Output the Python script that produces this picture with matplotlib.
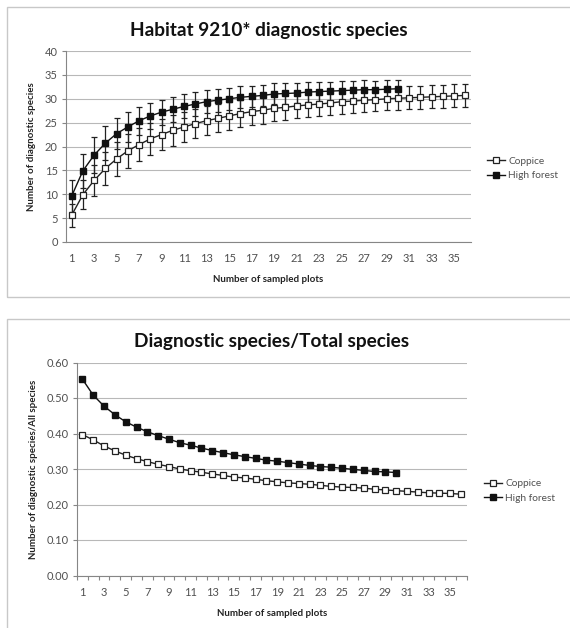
import numpy as np
import matplotlib.pyplot as plt
from matplotlib.patches import Rectangle

plt.rcParams['font.family'] = ['Lato', 'DejaVu Sans']

# Species accumulation: number of diagnostic species (mean and SD)
coppice_n = [5.6, 9.9, 12.9, 15.4, 17.4, 19.1, 20.4, 21.6, 22.5, 23.4, 24.1, 24.8,
             25.4, 25.9, 26.4, 26.9, 27.3, 27.6, 28.0, 28.2, 28.5, 28.7, 28.9, 29.1,
             29.4, 29.5, 29.7, 29.8, 30.0, 30.1, 30.2, 30.3, 30.4, 30.5, 30.6, 30.7]
coppice_sd = [2.4, 3.0, 3.2, 3.4, 3.5, 3.5, 3.4, 3.3, 3.2, 3.2, 3.1, 3.0,
              3.0, 2.9, 2.9, 2.9, 2.8, 2.8, 2.7, 2.7, 2.6, 2.6, 2.5, 2.5,
              2.5, 2.5, 2.4, 2.4, 2.4, 2.4, 2.4, 2.4, 2.4, 2.4, 2.4, 2.4]
forest_n = [9.6, 14.9, 18.2, 20.7, 22.7, 24.1, 25.4, 26.4, 27.2, 27.8, 28.4, 28.9,
            29.4, 29.7, 30.0, 30.3, 30.5, 30.7, 31.0, 31.1, 31.2, 31.4, 31.5, 31.6,
            31.7, 31.8, 31.9, 31.9, 32.0, 32.1]
forest_sd = [3.3, 3.6, 3.7, 3.5, 3.2, 3.1, 2.9, 2.8, 2.6, 2.6, 2.5, 2.5,
             2.4, 2.4, 2.3, 2.3, 2.2, 2.2, 2.2, 2.1, 2.1, 2.1, 2.0, 2.0,
             2.0, 2.0, 2.0, 1.9, 1.9, 1.9]

# Ratio diagnostic / all species
coppice_ratio = [0.397, 0.382, 0.365, 0.351, 0.339, 0.329, 0.321, 0.313, 0.307, 0.300,
                 0.295, 0.291, 0.286, 0.282, 0.277, 0.275, 0.271, 0.267, 0.264, 0.261,
                 0.259, 0.257, 0.254, 0.251, 0.249, 0.248, 0.246, 0.243, 0.241, 0.239,
                 0.237, 0.235, 0.233, 0.232, 0.231, 0.229]
forest_ratio = [0.553, 0.508, 0.477, 0.453, 0.433, 0.418, 0.405, 0.394, 0.384, 0.374,
                0.367, 0.359, 0.352, 0.346, 0.340, 0.335, 0.330, 0.325, 0.322, 0.318,
                0.314, 0.310, 0.307, 0.305, 0.302, 0.299, 0.296, 0.293, 0.292, 0.290]

W, H = 570, 628
fig = plt.figure(figsize=(W / 100, H / 100), dpi=100)

def px_axes(left, top, right, bottom):
    return fig.add_axes([left / W, 1 - bottom / H, (right - left) / W, (bottom - top) / H])

# panel frames
for y0, y1 in [(7, 297), (319, 640)]:
    fig.patches.append(Rectangle((7 / W, 1 - y1 / H), (575 - 7) / W, (y1 - y0) / H,
                                 transform=fig.transFigure, fill=False,
                                 edgecolor='#c8c8c8', linewidth=1.0))

grey = '#868686'
text_col = '#505050'
ms = 4.6

def style(ax, ylim, yticks, fmt):
    ax.set_xlim(0.5, 36.5)
    ax.set_ylim(*ylim)
    ax.set_yticks(yticks)
    ax.set_yticklabels([fmt.format(v) for v in yticks])
    ax.set_xticks(np.arange(1, 37, 2))
    ax.set_xticklabels([str(i) for i in range(1, 37, 2)])
    for s in ['top', 'right']:
        ax.spines[s].set_visible(False)
    for s in ['left', 'bottom']:
        ax.spines[s].set_color(grey)
        ax.spines[s].set_linewidth(0.8)
    ax.grid(axis='y', color='#b8b8b8', linewidth=0.8)
    ax.set_axisbelow(True)
    ax.tick_params(axis='both', labelsize=8, colors=grey, labelcolor=text_col)
    ax.tick_params(axis='y', length=3, width=0.8, pad=3)

# ---- top chart ----
ax1 = px_axes(66, 51, 471, 242)
x_c = np.arange(1, len(coppice_n) + 1)
x_f = np.arange(1, len(forest_n) + 1)
ax1.errorbar(x_f, forest_n, yerr=forest_sd, fmt='none', ecolor='#222222',
             elinewidth=0.9, capsize=2.5, capthick=0.9, zorder=2)
ax1.errorbar(x_c, coppice_n, yerr=coppice_sd, fmt='none', ecolor='#222222',
             elinewidth=0.9, capsize=2.5, capthick=0.9, zorder=2)
ax1.plot(x_c, coppice_n, '-s', color='#222222', lw=1.0, ms=ms, mfc='white',
         mec='#222222', mew=0.9, label='Coppice', zorder=3)
ax1.plot(x_f, forest_n, '-s', color='#111111', lw=1.0, ms=ms, mfc='#111111',
         mec='#111111', label='High forest', zorder=4)
style(ax1, (0, 40), np.arange(0, 41, 5), '{:d}')
ax1.tick_params(axis='x', length=0, pad=8)
ax1.set_title('Habitat 9210* diagnostic species', fontsize=13.7, fontweight='bold',
              color='#111111', pad=11)
ax1.set_xlabel('Number of sampled plots', fontsize=7, fontweight='bold',
               color='#222222', labelpad=8)
ax1.set_ylabel('Number of diagnostic species', fontsize=7, fontweight='bold',
               color='#222222', labelpad=6)
ax1.legend(loc='center left', bbox_to_anchor=(1.04, 0.385), frameon=False,
           fontsize=7.3, handlelength=1.8, handletextpad=0.3, borderaxespad=0,
           borderpad=0, labelcolor=text_col)

# ---- bottom chart ----
ax2 = px_axes(77, 362.5, 466.5, 575.5)
ax2.plot(x_c, coppice_ratio, '-s', color='#222222', lw=1.0, ms=ms, mfc='white',
         mec='#222222', mew=0.9, label='Coppice', zorder=3)
ax2.plot(x_f, forest_ratio, '-s', color='#111111', lw=1.0, ms=ms, mfc='#111111',
         mec='#111111', label='High forest', zorder=4)
style(ax2, (0, 0.6), np.round(np.arange(0, 0.61, 0.1), 2), '{:.2f}')
ax2.set_xticks(np.arange(0.5, 37, 1), minor=True)
ax2.tick_params(axis='x', which='major', length=0, pad=8)
ax2.tick_params(axis='x', which='minor', length=3, width=0.8, color=grey)
ax2.set_title('Diagnostic species/Total species', fontsize=13.7, fontweight='bold',
              color='#111111', pad=11)
ax2.set_xlabel('Number of sampled plots', fontsize=7, fontweight='bold',
               color='#222222', labelpad=8)
ax2.set_ylabel('Number of diagnostic species/All species', fontsize=7,
               fontweight='bold', color='#222222', labelpad=6)
ax2.legend(loc='center left', bbox_to_anchor=(1.045, 0.397), frameon=False,
           fontsize=7.3, handlelength=1.8, handletextpad=0.3, borderaxespad=0,
           borderpad=0, labelcolor=text_col)

fig.savefig('out.png', dpi=100, facecolor='white')
